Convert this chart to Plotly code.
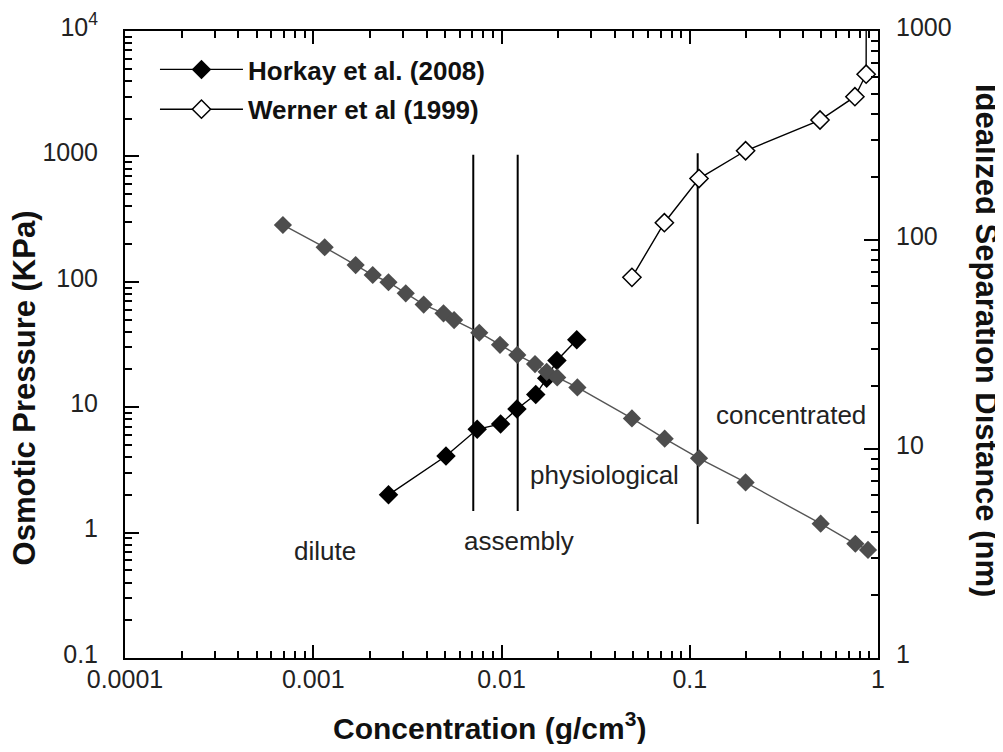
import math
import plotly.graph_objects as go

# ---- data ----
# Idealized separation distance (right axis, grey diamonds)
sep_conc = [0.00069, 0.00115, 0.00168, 0.00207, 0.00251, 0.0031, 0.00386, 0.00492,
            0.0056, 0.00762, 0.00982, 0.01213, 0.01507, 0.01738, 0.01977, 0.0253,
            0.0493, 0.0736, 0.112, 0.198, 0.496, 0.758, 0.885]
sep_dist = [118, 92.3, 75.9, 68.0, 62.8, 55.6, 49.1, 44.6,
            41.4, 36.0, 31.5, 28.2, 25.5, 23.4, 22.0, 19.7,
            14.0, 11.2, 9.03, 6.92, 4.39, 3.52, 3.29]

# Horkay et al. (2008) osmotic pressure (left axis, filled diamonds)
horkay_conc = [0.00251, 0.00507, 0.00743, 0.00989, 0.01208, 0.0152, 0.01738, 0.0197, 0.0251]
horkay_p = [2.0, 4.08, 6.66, 7.35, 9.68, 12.6, 17.0, 23.6, 34.5]

# Werner et al (1999) osmotic pressure (left axis, open diamonds); last point is off-scale
werner_conc = [0.0493, 0.0733, 0.112, 0.198, 0.492, 0.754, 0.865, 0.866]
werner_p = [108.6, 296, 666, 1109, 1950, 2993, 4524, 20000]

# Region boundaries (vertical lines)
boundary_conc = [0.00708, 0.01219, 0.1102]
boundary_top = [1030, 1030, 1060]
boundary_bottom = [1.49, 1.49, 1.17]

# Region labels
region_labels = ["dilute", "assembly", "physiological", "concentrated"]
region_conc = [0.00115, 0.0124, 0.0352, 0.345]
region_p = [0.713, 0.857, 2.88, 8.67]

x_tickvals = [1e-4, 1e-3, 1e-2, 1e-1, 1]
x_ticktext = ["0.0001", "0.001", "0.01", "0.1", "1"]
y_tickvals = [0.1, 1, 10, 100, 1000, 10000]
y_ticktext = ["0.1", "1", "10", "100", "1000", "10<sup>4</sup>"]
y2_tickvals = [1, 10, 100, 1000]
y2_ticktext = ["1", "10", "100", "1000"]

FONT = "Liberation Sans, Arial, Helvetica, sans-serif"

fig = go.Figure()

# vertical boundary lines
bx, by = [], []
for c, t, b in zip(boundary_conc, boundary_top, boundary_bottom):
    bx += [c, c, None]
    by += [b, t, None]
fig.add_trace(go.Scatter(x=bx, y=by, mode="lines", line=dict(color="black", width=2),
                         showlegend=False, hoverinfo="skip"))

fig.add_trace(go.Scatter(
    x=horkay_conc, y=horkay_p, mode="lines+markers", name="<b>Horkay et al. (2008)</b>",
    legendgroup="horkay",
    line=dict(color="black", width=1.4),
    marker=dict(symbol="diamond", size=15, color="black", line=dict(width=0)),
))
fig.add_trace(go.Scatter(
    x=werner_conc, y=werner_p, mode="lines+markers", name="<b>Werner et al (1999)</b>",
    legendgroup="werner",
    line=dict(color="black", width=1.4),
    marker=dict(symbol="diamond", size=14, color="white", line=dict(color="black", width=1.5)),
))
fig.add_trace(go.Scatter(
    x=sep_conc, y=sep_dist, yaxis="y2", mode="lines+markers", showlegend=False,
    line=dict(color="#555555", width=1.4),
    marker=dict(symbol="diamond", size=14, color="#4d4d4d", line=dict(width=0)),
))

# region labels (log axes -> annotation positions in log10 units)
for t, c, p in zip(region_labels, region_conc, region_p):
    fig.add_annotation(x=math.log10(c), y=math.log10(p), xref="x", yref="y", text=t,
                       showarrow=False, font=dict(family=FONT, size=26, color="#222222"),
                       xanchor="center", yanchor="middle")

axis_common = dict(type="log", showline=True, linecolor="black", linewidth=2,
                   ticks="inside", tickwidth=1.5, tickcolor="black", showgrid=False,
                   zeroline=False, automargin=False,
                   tickfont=dict(family=FONT, size=25, color="#222222"),
                   minor=dict(ticks="inside", ticklen=7, tickwidth=1.5, tickcolor="black",
                              dtick="D1", showgrid=False))

# page body has an 8px margin; figure sized to fit the window
fig.update_layout(
    width=995, height=736,
    margin=dict(l=117, r=125, t=23, b=86, autoexpand=False),
    paper_bgcolor="white", plot_bgcolor="white",
    xaxis=dict(range=[-4, 0], tickmode="array", tickvals=x_tickvals, ticktext=x_ticktext,
               ticklen=13, mirror="ticks", ticklabelstandoff=-2, **axis_common),
    yaxis=dict(range=[-1, 4], tickmode="array", tickvals=y_tickvals, ticktext=y_ticktext,
               ticklen=14, ticklabelstandoff=20, ticklabelshift=-4, **axis_common),
    yaxis2=dict(range=[0, 3], overlaying="y", side="right", anchor="x", tickmode="array",
                tickvals=y2_tickvals, ticktext=y2_ticktext, ticklen=14,
                ticklabelstandoff=11, ticklabelshift=-4, **axis_common),
    legend=dict(x=0.0398, y=0.9761, xanchor="left", yanchor="top", bgcolor="rgba(0,0,0,0)",
                itemwidth=83,
                font=dict(family=FONT, size=26, color="#111111"), tracegroupgap=3),
    showlegend=True,
)

fig.add_annotation(xref="paper", yref="paper", x=0.4847, y=-0.108,
                   text="<b>Concentration (g/cm<sup>3</sup>)</b>", showarrow=False,
                   font=dict(family=FONT, size=30, color="#111111"),
                   xanchor="center", yanchor="middle")
fig.add_annotation(xref="paper", yref="paper", x=-0.1341, y=0.43,
                   text="<b>Osmotic Pressure (KPa)</b>", showarrow=False, textangle=-90,
                   font=dict(family=FONT, size=31, color="#111111"),
                   xanchor="center", yanchor="middle")
fig.add_annotation(xref="paper", yref="paper", x=1.1434, y=0.5056,
                   text="<b>Idealized Separation Distance (nm)</b>", showarrow=False, textangle=90,
                   font=dict(family=FONT, size=31, color="#111111"),
                   xanchor="center", yanchor="middle")

fig.write_html("out.html")
